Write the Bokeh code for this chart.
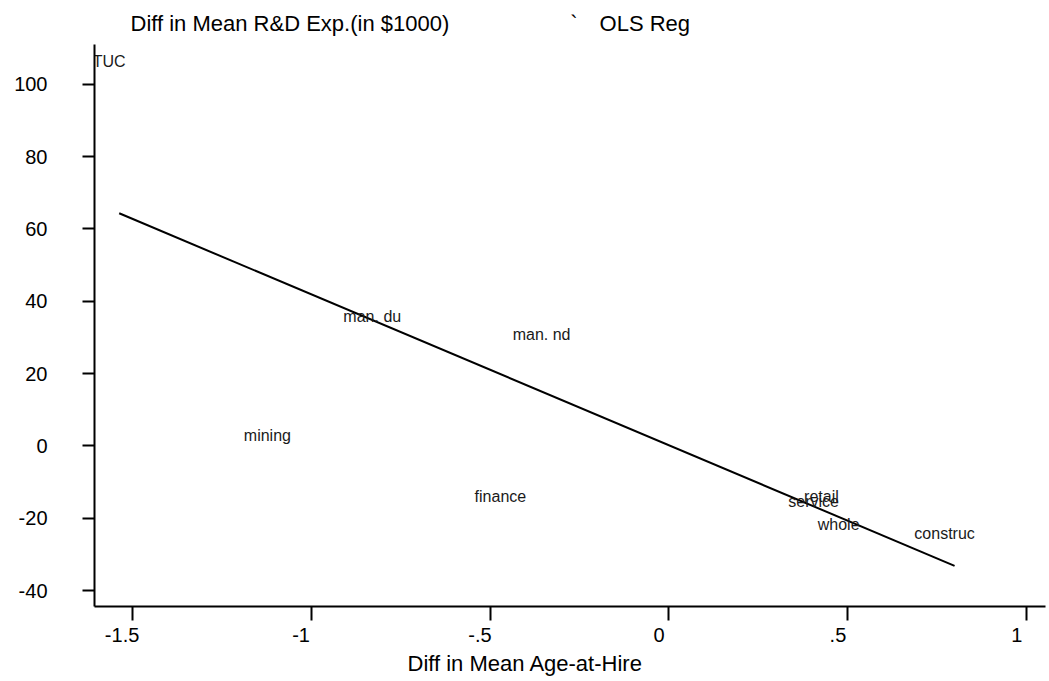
import numpy as np
from bokeh.plotting import figure
from bokeh.models import ColumnDataSource, Range1d, FixedTicker, Title
from bokeh.embed import file_html
from bokeh.resources import INLINE
from bokeh.core.properties import value

# Industry-level differences: mean age at hire vs. mean R&D expenditure
industries = ["TUC", "man. du", "man. nd", "mining", "finance",
              "service", "retail", "whole", "construc"]
age_diff = [-1.536, -0.801, -0.328, -1.094, -0.443, 0.432, 0.454, 0.502, 0.798]
rd_diff = [106.2, 35.7, 30.7, 2.8, -14.1, -15.5, -14.1, -21.8, -24.1]

x_ticks = [-1.5, -1, -0.5, 0, 0.5, 1]
x_tick_labels = ["-1.5", "-1", "-.5", "0", ".5", "1"]
y_ticks = [-40, -20, 0, 20, 40, 60, 80, 100]
y_tick_labels = ["-40", "-20", "0", "20", "40", "60", "80", "100"]

FONT = "Liberation Sans"
EM = "\u2003"

p = figure(width=1049, height=681,
           x_range=Range1d(-1.605, 1.052), y_range=Range1d(-44.4, 111.0),
           output_backend="svg", toolbar_location=None,
           min_border_left=94, min_border_right=4,
           min_border_top=44, min_border_bottom=75)
p.grid.visible = False
p.outline_line_color = None
p.background_fill_color = "white"
p.border_fill_color = "white"

# y axis
p.yaxis.ticker = FixedTicker(ticks=y_ticks)
p.yaxis.major_label_overrides = {t: s for t, s in zip(y_ticks, y_tick_labels)}
p.yaxis.axis_line_width = 2
p.yaxis.major_tick_line_width = 2
p.yaxis.major_tick_out = 12
p.yaxis.major_tick_in = 0
p.yaxis.minor_tick_line_color = None
p.yaxis.major_label_standoff = 35
p.yaxis.major_label_text_font = FONT
p.yaxis.major_label_text_font_size = "20px"
p.yaxis.major_label_text_color = "black"

# x axis; a trailing em space sets each label slightly left of its tick
p.xaxis.ticker = FixedTicker(ticks=x_ticks)
p.xaxis.major_label_overrides = {t: s + EM for t, s in zip(x_ticks, x_tick_labels)}
p.xaxis.axis_line_width = 2
p.xaxis.major_tick_line_width = 2
p.xaxis.major_tick_out = 14
p.xaxis.major_tick_in = 0
p.xaxis.minor_tick_line_color = None
p.xaxis.major_label_standoff = 3
p.xaxis.major_label_text_font = FONT
p.xaxis.major_label_text_font_size = "20px"
p.xaxis.major_label_text_color = "black"

# OLS fit through the industry points
slope, intercept = np.polyfit(age_diff, rd_diff, 1)
fit_x = [min(age_diff), max(age_diff)]
fit_y = [intercept + slope * v for v in fit_x]
p.line(fit_x, fit_y, line_width=2, line_color="black")

# industry names used as the point markers
src = ColumnDataSource(dict(x=age_diff, y=rd_diff, name=industries))
p.text(x="x", y="y", text="name", source=src, x_offset=-10,
       text_align="center", text_baseline="middle",
       text_font=value(FONT), text_font_size="16px", text_color="#1a1a1a")

# header line: y-variable name and the key for the fitted line
header = "Diff in Mean R&D Exp.(in $1000)" + EM * 5 + "\u2002`" + EM + "OLS Reg"
p.add_layout(Title(text=header, align="left", offset=36, standoff=14,
                   vertical_align="top",
                   text_font=FONT, text_font_size="22px",
                   text_font_style="normal", text_color="black"), "above")

# x-variable name
p.add_layout(Title(text="Diff in Mean Age-at-Hire", align="left", offset=313,
                   standoff=0, text_font=FONT, text_font_size="22px",
                   text_font_style="normal", text_color="black"), "below")

open("out.html", "w").write(file_html(p, INLINE))
